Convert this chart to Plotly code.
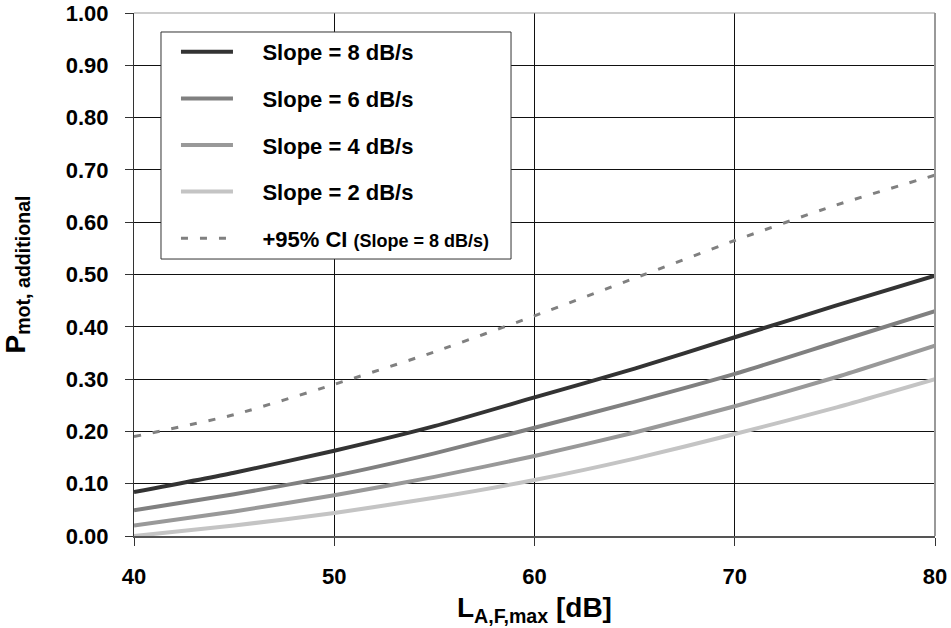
import plotly.graph_objects as go

level_db = [40, 45, 50, 55, 60, 65, 70, 75, 80]
slope8 = [0.084, 0.121, 0.163, 0.210, 0.265, 0.320, 0.380, 0.440, 0.498]
slope6 = [0.049, 0.080, 0.115, 0.158, 0.207, 0.257, 0.310, 0.370, 0.430]
slope4 = [0.020, 0.047, 0.078, 0.113, 0.153, 0.198, 0.248, 0.303, 0.364]
slope2 = [0.000, 0.020, 0.044, 0.073, 0.107, 0.148, 0.195, 0.245, 0.300]
ci95_slope8 = [0.190, 0.232, 0.290, 0.352, 0.421, 0.493, 0.565, 0.632, 0.690]

y_ticks = [0.0, 0.1, 0.2, 0.3, 0.4, 0.5, 0.6, 0.7, 0.8, 0.9, 1.0]
x_ticks = [40, 50, 60, 70, 80]

FONT = "Liberation Sans, Arial, sans-serif"
PAD = "&nbsp;&nbsp;&nbsp;&nbsp;"

series = [
    ("Slope = 8 dB/s", slope8, "#333333", 4, "solid"),
    ("Slope = 6 dB/s", slope6, "#808080", 4, "solid"),
    ("Slope = 4 dB/s", slope4, "#999999", 4, "solid"),
    ("Slope = 2 dB/s", slope2, "#c4c4c4", 4, "solid"),
    ("+95% CI <span style=\"font-size:18px\">(Slope = 8 dB/s)</span>", ci95_slope8, "#808080", 3, "7px,12px"),
]

fig = go.Figure()
for i, (name, vals, color, width, dash) in enumerate(series):
    fig.add_trace(go.Scatter(
        x=level_db, y=vals, mode="lines", name=PAD + "<b>" + name + "</b>",
        line=dict(color=color, width=width, dash=dash, shape="spline", smoothing=0.6),
        legendgroup="g%d" % i,
    ))

fig.update_layout(
    width=951, height=628,
    margin=dict(l=134, r=16, t=13, b=92, autoexpand=False),
    paper_bgcolor="white", plot_bgcolor="white",
    font=dict(family=FONT, size=22, color="black"),
    showlegend=True,
    legend=dict(
        x=0.0524, y=0.9656, xanchor="left", yanchor="top",
        bgcolor="rgba(0,0,0,0)", borderwidth=0,
        font=dict(family=FONT, size=22, color="black"),
        tracegroupgap=15, itemwidth=52, traceorder="grouped",
    ),
    xaxis=dict(
        range=[40, 80], tickvals=x_ticks, ticktext=["<b>%d</b>" % v for v in x_ticks],
        showgrid=True, gridcolor="#111111", gridwidth=1,
        showline=True, linecolor="#555555", linewidth=2,
        ticks="outside", ticklen=8, tickcolor="#333333",
        tickfont=dict(family=FONT, size=22, color="black"),
        ticklabelstandoff=12, zeroline=False, automargin=False,
    ),
    yaxis=dict(
        range=[0, 1], tickvals=y_ticks, ticktext=["<b>%.2f</b>" % v for v in y_ticks],
        showgrid=True, gridcolor="#111111", gridwidth=1,
        showline=True, linecolor="#333333", linewidth=1,
        ticks="outside", ticklen=8, tickcolor="#333333",
        tickfont=dict(family=FONT, size=22, color="black"),
        ticklabelstandoff=12, zeroline=False, automargin=False,
    ),
)

# top and right frame
fig.add_shape(type="line", xref="paper", yref="paper", x0=0, x1=1, y0=1, y1=1,
              line=dict(color="#999999", width=1))
fig.add_shape(type="line", xref="paper", yref="paper", x0=1, x1=1, y0=0, y1=1,
              line=dict(color="#999999", width=2))
# legend frame
fig.add_shape(type="rect", xref="paper", yref="paper", x0=0.0337, x1=0.4707, y0=0.5296, y1=0.9637,
              line=dict(color="#333333", width=1), fillcolor="white", layer="above")

fig.add_annotation(
    xref="paper", yref="paper", x=0.5, y=0, yshift=-73, xanchor="center", yanchor="middle",
    text="<b>L<sub>A,F,max</sub> [dB]</b>", showarrow=False,
    font=dict(family=FONT, size=28, color="black"),
)
fig.add_annotation(
    xref="paper", yref="paper", x=0, y=0.5, xshift=-117, xanchor="center", yanchor="middle",
    text="<b>P<sub>mot, additional</sub></b>", textangle=-90, showarrow=False,
    font=dict(family=FONT, size=28, color="black"),
)

fig.write_html("out.html")
